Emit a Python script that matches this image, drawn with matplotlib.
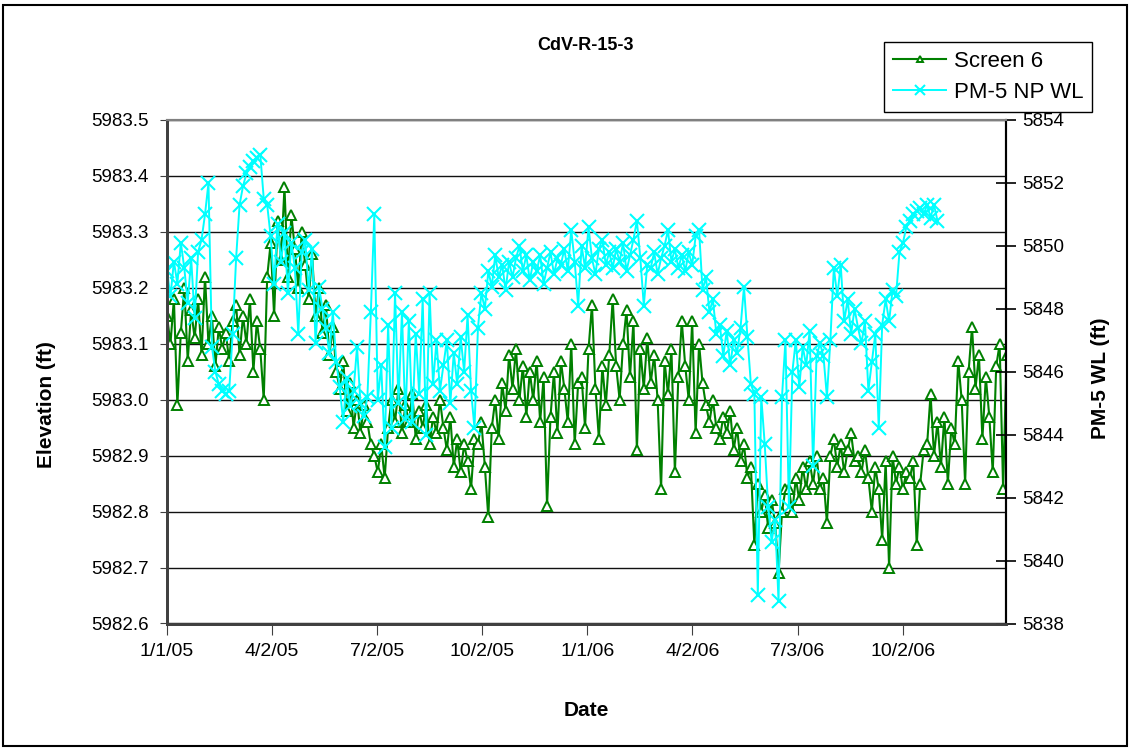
import datetime as dt
import matplotlib
matplotlib.use('Agg')
import matplotlib.pyplot as plt
import matplotlib.dates as mdates
import pandas as pd
from matplotlib.patches import Rectangle

plt.rcParams['font.family'] = ['Liberation Sans', 'DejaVu Sans']

# Screen 6 elevation (ft), read every 3 days starting 1/1/05
screen6 = [
    5983.15, 5983.10, 5983.18, 5982.99, 5983.12, 5983.20, 5983.07, 5983.16, 5983.11, 5983.18,
    5983.08, 5983.22, 5983.10, 5983.15, 5983.06, 5983.13, 5983.09, 5983.12, 5983.07, 5983.14,
    5983.17, 5983.08, 5983.15, 5983.10, 5983.18, 5983.05, 5983.14, 5983.09, 5983.00, 5983.22,
    5983.28, 5983.15, 5983.32, 5983.25, 5983.38, 5983.22, 5983.33, 5983.27, 5983.20, 5983.30,
    5983.24, 5983.18, 5983.26, 5983.15, 5983.20, 5983.12, 5983.17, 5983.08, 5983.13, 5983.05,
    5983.02, 5983.07, 5982.98, 5983.03, 5982.95, 5983.00, 5982.94, 5982.99, 5982.96, 5982.92,
    5982.90, 5982.87, 5982.92, 5982.86, 5982.95, 5983.00, 5982.96, 5983.02, 5982.94, 5982.99,
    5982.96, 5983.01, 5982.93, 5982.98, 5982.95, 5982.99, 5982.92, 5982.97, 5982.94, 5983.00,
    5982.95, 5982.91, 5982.97, 5982.88, 5982.93, 5982.87, 5982.92, 5982.89, 5982.84, 5982.93,
    5982.92, 5982.96, 5982.88, 5982.79, 5982.95, 5983.00, 5982.93, 5983.03, 5982.98, 5983.08,
    5983.02, 5983.09, 5983.00, 5983.06, 5982.97, 5983.05, 5983.00, 5983.07, 5982.96, 5983.04,
    5982.81, 5982.97, 5983.05, 5982.94, 5983.07, 5983.02, 5982.96, 5983.10, 5982.92, 5983.03,
    5983.04, 5982.95, 5983.09, 5983.17, 5983.02, 5982.93, 5983.06, 5982.99, 5983.08, 5983.18,
    5983.06, 5983.00, 5983.10, 5983.16, 5983.04, 5983.14, 5982.91, 5983.09, 5983.02, 5983.11,
    5983.03, 5983.08, 5983.00, 5982.84, 5983.07, 5983.01, 5983.09, 5982.87, 5983.04, 5983.14,
    5983.06, 5983.00, 5983.14, 5982.94, 5983.10, 5983.03, 5982.99, 5982.96, 5983.00, 5982.95,
    5982.93, 5982.97, 5982.94, 5982.98, 5982.91, 5982.95, 5982.89, 5982.92, 5982.86, 5982.88,
    5982.74, 5982.85, 5982.80, 5982.83, 5982.77, 5982.82, 5982.78, 5982.69, 5982.80, 5982.84,
    5982.84, 5982.80, 5982.86, 5982.82, 5982.88, 5982.84, 5982.89, 5982.85, 5982.90, 5982.84,
    5982.86, 5982.78, 5982.90, 5982.93, 5982.88, 5982.92, 5982.87, 5982.91, 5982.94, 5982.89,
    5982.90, 5982.87, 5982.91, 5982.86, 5982.80, 5982.88, 5982.84, 5982.75, 5982.89, 5982.70,
    5982.90, 5982.85, 5982.88, 5982.84, 5982.87, 5982.86, 5982.89, 5982.74, 5982.85, 5982.91,
    5982.92, 5983.01, 5982.90, 5982.96, 5982.88, 5982.97, 5982.85, 5982.95, 5982.92, 5983.07,
    5983.00, 5982.85, 5983.05, 5983.13, 5983.02, 5983.08, 5982.93, 5983.04, 5982.97, 5982.87,
    5983.06, 5983.10, 5982.84, 5983.08,
]

# PM-5 NP water level (ft), read every 3 days starting 1/1/05
pm5_wl = [
    5849.2, 5848.4, 5849.5, 5848.8, 5850.1, 5849.3, 5848.2, 5849.6, 5847.7, 5849.8,
    5850.2, 5851.0, 5852.0, 5846.8, 5846.0, 5845.6, 5845.4, 5845.3, 5845.4, 5847.2,
    5849.6, 5851.3, 5851.9, 5852.3, 5852.5, 5852.7, 5852.8, 5852.9, 5851.5, 5851.3,
    5850.3, 5848.8, 5850.7, 5849.5, 5850.4, 5848.5, 5850.1, 5849.3, 5847.2, 5849.8,
    5850.2, 5848.6, 5849.9, 5846.9, 5848.7, 5848.0, 5847.4, 5846.6, 5847.9, 5846.3,
    5845.5, 5844.4, 5845.8, 5844.9, 5845.4, 5846.8, 5845.0, 5844.6, 5845.2, 5847.9,
    5851.0, 5845.1, 5846.2, 5843.6, 5847.5, 5844.2, 5848.5, 5845.0, 5847.9, 5844.5,
    5847.6, 5844.4, 5847.2, 5845.3, 5848.3, 5844.0, 5848.5, 5845.6, 5847.0, 5845.4,
    5846.2, 5847.0, 5845.0, 5846.6, 5845.6, 5847.1, 5846.0, 5847.8, 5845.4, 5844.2,
    5847.4, 5848.5, 5848.0, 5849.2, 5848.7, 5849.7, 5849.0, 5849.4, 5848.6, 5849.5,
    5849.0, 5849.6, 5850.0, 5849.2, 5849.7, 5848.9, 5849.5, 5849.2, 5849.7, 5848.8,
    5849.3, 5849.8, 5849.1, 5849.6, 5849.4, 5849.9, 5849.2, 5850.5, 5849.5, 5848.1,
    5850.0, 5849.3, 5850.6, 5849.6, 5849.1, 5849.9, 5850.2, 5849.4, 5849.8, 5849.3,
    5849.9, 5849.5, 5850.1, 5849.2, 5849.7, 5850.2, 5850.8, 5849.6, 5848.1, 5849.4,
    5849.3, 5849.8, 5849.1, 5849.6, 5850.0, 5850.5, 5849.5, 5849.9, 5849.3, 5849.7,
    5849.2, 5849.8, 5849.4, 5850.3, 5850.5, 5848.6, 5849.0, 5847.9, 5848.3, 5847.2,
    5847.5, 5846.5, 5847.3, 5846.2, 5847.0, 5846.6, 5847.4, 5848.7, 5847.1, 5845.6,
    5845.3, 5838.9, 5845.2, 5843.7, 5841.7, 5840.6, 5841.3, 5838.7, 5845.2, 5847.0,
    5841.7, 5846.0, 5847.0, 5845.5, 5846.8, 5846.2, 5847.3, 5843.0, 5846.5, 5846.9,
    5846.5, 5845.2, 5847.0, 5849.3, 5848.4, 5849.4, 5847.6, 5848.3, 5847.2, 5848.0,
    5847.4, 5846.9, 5847.6, 5845.4, 5846.3, 5847.2, 5844.2, 5847.5, 5848.3, 5847.6,
    5848.6, 5848.4, 5849.8, 5850.1, 5850.6, 5850.8, 5851.0, 5851.1, 5851.2, 5851.0,
    5851.3, 5850.9, 5851.3, 5850.8,
]

date_labels = ['1/1/05', '4/2/05', '7/2/05', '10/2/05', '1/1/06', '4/2/06', '7/3/06', '10/2/06']
left_ticks = [5982.6, 5982.7, 5982.8, 5982.9, 5983.0, 5983.1, 5983.2, 5983.3, 5983.4, 5983.5]
right_ticks = [5838, 5840, 5842, 5844, 5846, 5848, 5850, 5852, 5854]

GREEN = '#008000'
CYAN = '#00FFFF'

screen6_dates = pd.date_range('2005-01-01', periods=len(screen6), freq='3D')
pm5_dates = pd.date_range('2005-01-01', periods=len(pm5_wl), freq='3D')

fig = plt.figure(figsize=(11.3, 7.49), dpi=100)
ax = fig.add_axes([167 / 1130, 1 - 623.5 / 749, (1006 - 167) / 1130, (623.5 - 120) / 749])
ax2 = ax.twinx()

l1, = ax.plot(screen6_dates, screen6, '-', color=GREEN, lw=1.5, marker='^', ms=7,
              mfc='white', mec=GREEN, mew=1.4, label='Screen 6')
l2, = ax2.plot(pm5_dates, pm5_wl, '-', color=CYAN, lw=1.4, marker='x', ms=10,
               mew=1.5, label='PM-5 NP WL')

start = mdates.date2num(dt.datetime(2005, 1, 1))
ax.set_xlim(start, start + 728.5)
ax.set_xticks([start + 91.25 * k for k in range(len(date_labels))])
ax.set_xticklabels(date_labels)

ax.set_ylim(5982.6, 5983.5)
ax.set_yticks(left_ticks)
ax.set_yticklabels([f'{v:.1f}' for v in left_ticks])
ax2.set_ylim(5838, 5854)
ax2.set_yticks(right_ticks)

ax.grid(axis='y', color='#111111', lw=1.0)
ax.set_axisbelow(True)

ax.tick_params(axis='y', direction='out', length=5, pad=8, labelsize=13.5, color='#404040')
ax.tick_params(axis='x', direction='out', length=8, pad=6, labelsize=14, color='#404040')
ax2.tick_params(axis='y', direction='inout', length=15, width=1.2, pad=4, labelsize=13.5)

for a in (ax, ax2):
    a.spines['top'].set_color('#808080')
    a.spines['top'].set_linewidth(1.5)
    a.spines['left'].set_color('#404040')
    a.spines['left'].set_linewidth(2)
    a.spines['bottom'].set_color('#404040')
    a.spines['bottom'].set_linewidth(2)
    a.spines['right'].set_color('black')
    a.spines['right'].set_linewidth(1.5)

fig.text(586 / 1130, 1 - 45 / 749, 'CdV-R-15-3', ha='center', va='center',
         fontsize=13, fontweight='bold')
fig.text(47 / 1130, 1 - 405 / 749, 'Elevation (ft)', ha='center', va='center',
         rotation=90, fontsize=15, fontweight='bold')
fig.text(1100 / 1130, 1 - 378 / 749, 'PM-5 WL (ft)', ha='center', va='center',
         rotation=90, fontsize=15, fontweight='bold')
fig.text(586 / 1130, 1 - 711 / 749, 'Date', ha='center', va='center',
         fontsize=15, fontweight='bold')

leg = fig.legend([l1, l2], ['Screen 6', 'PM-5 NP WL'], loc='upper left',
                 bbox_to_anchor=(884 / 1130, 1 - 42 / 749), fontsize=16,
                 fancybox=False, edgecolor='black', framealpha=1,
                 borderpad=0.4, handlelength=2.4, handletextpad=0.35,
                 labelspacing=0.45, borderaxespad=0, markerscale=0.65)
leg.get_frame().set_linewidth(1.0)

fig.patches.append(Rectangle((3 / 1130, 3 / 749), 1124 / 1130, 741 / 749,
                             transform=fig.transFigure, fill=False,
                             edgecolor='black', lw=1.5))

fig.savefig('out.png', dpi=100, facecolor='white')
